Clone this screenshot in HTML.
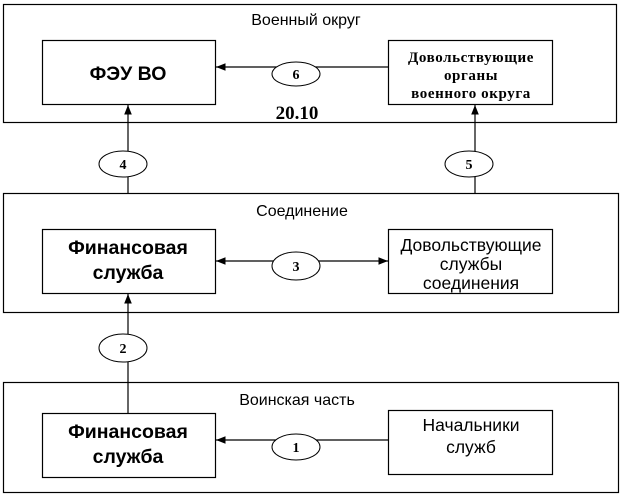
<!DOCTYPE html>
<html><head><meta charset="utf-8"><style>body{margin:0;background:#fff}svg{display:block}</style></head><body>
<svg width="620" height="496" xmlns="http://www.w3.org/2000/svg" font-family="Liberation Sans, sans-serif">
<defs><marker id="a" viewBox="0 0 10 10" refX="10" refY="5" markerWidth="8" markerHeight="8" orient="auto"><path d="M0,1 L10,5 L0,9z" fill="#000"/></marker></defs>
<g fill="none" stroke="#000" stroke-width="1.2">
<rect x="3.5" y="4.5" width="613" height="118"/>
<rect x="42.5" y="40.5" width="173" height="64"/>
<rect x="388.5" y="40.5" width="164" height="64"/>
<rect x="3.5" y="193.5" width="615" height="119"/>
<rect x="42.5" y="229.5" width="173" height="64"/>
<rect x="388.5" y="229.5" width="164" height="64"/>
<rect x="3.5" y="382.5" width="615" height="110"/>
<rect x="42.5" y="413.5" width="173" height="64"/>
<rect x="388.5" y="410.5" width="164" height="64"/>
<line x1="388" y1="67" x2="216" y2="67" marker-end="url(#a)"/>
<line x1="128" y1="193" x2="128" y2="105" marker-end="url(#a)"/>
<line x1="475" y1="193" x2="475" y2="105" marker-end="url(#a)"/>
<line x1="296" y1="261" x2="216" y2="261" marker-end="url(#a)"/>
<line x1="296" y1="261" x2="388" y2="261" marker-end="url(#a)"/>
<line x1="128" y1="413" x2="128" y2="294" marker-end="url(#a)"/>
<line x1="388" y1="440" x2="216" y2="440" marker-end="url(#a)"/>
</g>
<g fill="#fff" stroke="#000" stroke-width="1">
<ellipse cx="296" cy="74" rx="24" ry="12"/>
<ellipse cx="123" cy="164" rx="24" ry="13"/>
<ellipse cx="469" cy="164" rx="24" ry="13"/>
<ellipse cx="296" cy="266" rx="24" ry="14"/>
<ellipse cx="123" cy="348" rx="24" ry="14"/>
<ellipse cx="296" cy="447" rx="24" ry="13"/>
</g>
<g font-family="Liberation Serif, serif" font-weight="bold" font-size="14" text-anchor="middle">
<text x="296" y="79">6</text><text x="123" y="169">4</text><text x="469" y="169">5</text>
<text x="296" y="271">3</text><text x="123" y="353">2</text><text x="296" y="452">1</text>
<text x="297" y="119" font-size="19">20.10</text>
<text x="471" y="62" font-size="15" letter-spacing="0.6">Довольствующие</text>
<text x="471" y="80" font-size="15" letter-spacing="0.6">органы</text>
<text x="471" y="98" font-size="15" letter-spacing="0.6">военного округа</text>
</g>
<g font-size="16" text-anchor="middle">
<text x="306" y="25">Военный округ</text>
<text x="302" y="216">Соединение</text>
<text x="297" y="405">Воинская часть</text>
<text x="471" y="251" font-size="17.5">Довольствующие</text>
<text x="471" y="270" font-size="17.5">службы</text>
<text x="471" y="289" font-size="17.5">соединения</text>
<text x="471" y="431" font-size="17.5">Начальники</text>
<text x="471" y="453" font-size="17.5">служб</text>
</g>
<g font-size="19.5" font-weight="bold" text-anchor="middle">
<text x="128" y="80">ФЭУ ВО</text>
<text x="128" y="254">Финансовая</text><text x="128" y="279">служба</text>
<text x="128" y="438">Финансовая</text><text x="128" y="463">служба</text>
</g>
</svg>
</body></html>
